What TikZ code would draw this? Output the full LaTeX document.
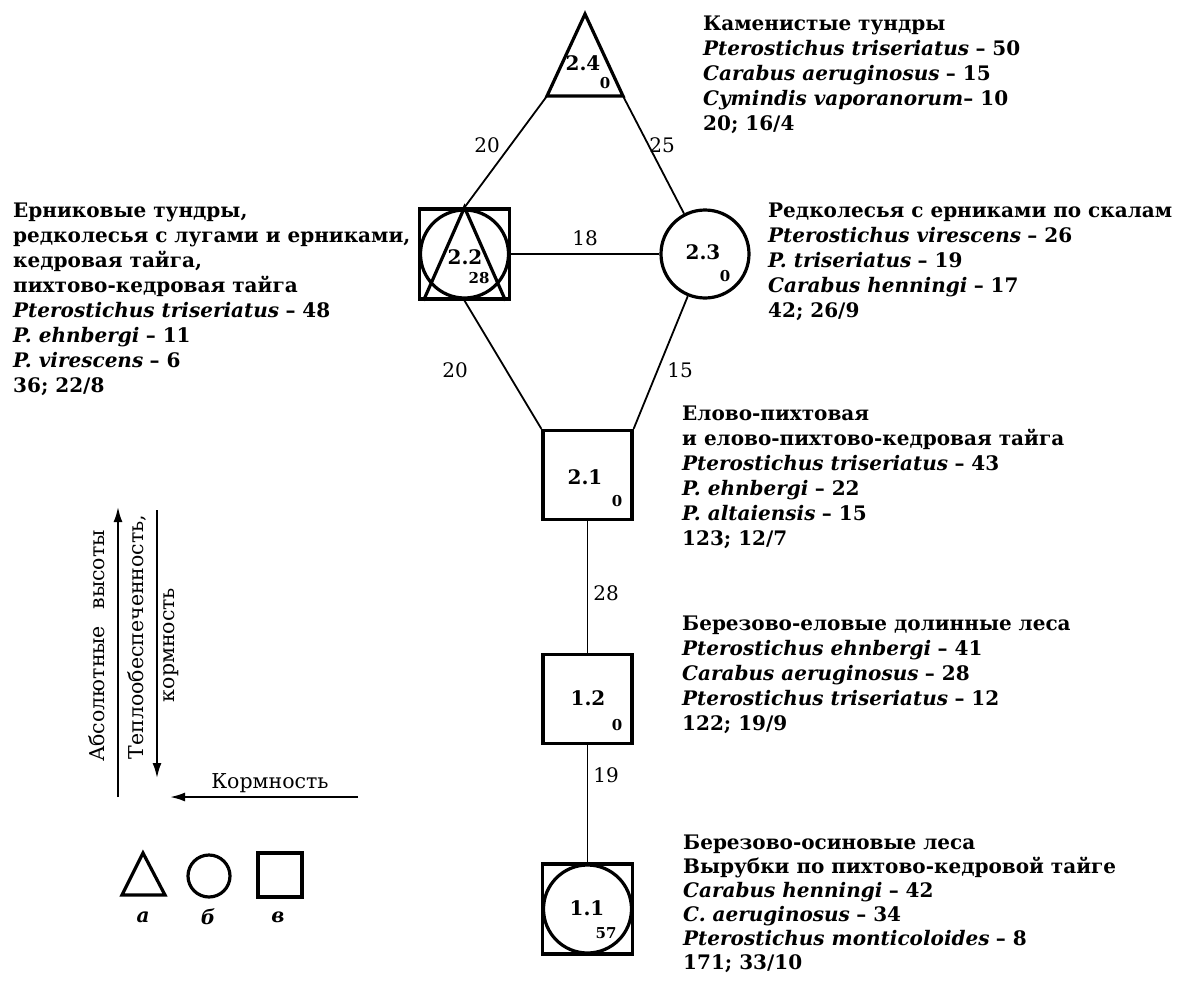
\documentclass[tikz,border=0pt]{standalone}
\usepackage{fontspec}
\setmainfont{DejaVu Serif}
\usetikzlibrary{arrows.meta}
\newcommand{\spc}[1]{\textbf{\itshape #1}}
\begin{document}
\begin{tikzpicture}[x=1pt,y=-1pt,
  shp/.style={line width=3.2pt},
  edge/.style={line width=1.8pt},
  box/.style={draw, shp, rectangle, inner sep=0, minimum width=#1, minimum height=#1},
  txt/.style={anchor=north west, inner sep=0, align=left, font=\fontsize{20}{25}\selectfont},
  txtb/.style={anchor=north west, inner sep=0, align=left, font=\fontsize{20}{24}\selectfont},
  elab/.style={font=\fontsize{20}{22}\selectfont, inner sep=0},
  nlab/.style={font=\fontsize{20}{22}\selectfont\bfseries, inner sep=0},
  nsub/.style={font=\fontsize{15}{16}\selectfont\bfseries, inner sep=0},
  axtxt/.style={font=\fontsize{20.5}{22}\selectfont, inner sep=0},
  legl/.style={font=\fontsize{20}{22}\selectfont\bfseries\itshape, inner sep=0},
  arr/.style={line width=2pt, -{Latex[length=15pt,width=9pt]}},
]
\useasboundingbox (0,0) rectangle (1178,985);

% ---- nodes ----
\coordinate (t24a) at (585,14);
\coordinate (t24l) at (547,96);
\coordinate (t24r) at (623,96);
\draw[shp, line join=miter] (t24a) -- (t24l) -- (t24r) -- cycle;
\node[nlab] (l24) at (583,63) {2.4};
\node[nsub] (s24) at (605,83) {0};

\node[box=90] (n22) at (464.5,254) {};
\draw[shp] (n22.center) circle (44);
\draw[shp] ([xshift=-41pt]n22.south) -- (n22.north) -- ([xshift=41pt]n22.south);
\node[nlab] (l22) at (465,257) {2.2};
\node[nsub] (s22) at (479,278) {28};

\node[draw, shp, circle, inner sep=0, minimum size=88] (n23) at (705,254) {};
\node[nlab] (l23) at (703,252) {2.3};
\node[nsub] (s23) at (725,276) {0};

\node[box=89] (n21) at (587.5,475) {};
\node[nlab] (l21) at (585,477) {2.1};
\node[nsub] (s21) at (617,501) {0};

\node[box=89] (n12) at (587.5,699) {};
\node[nlab] (l12) at (588,698) {1.2};
\node[nsub] (s12) at (617,725) {0};

\node[box=90] (n11) at (587.5,909) {};
\draw[shp] (n11.center) circle (44);
\node[nlab] (l11) at (587,908) {1.1};
\node[nsub] (s11) at (606,933) {57};

% ---- connectors ----
\draw[edge] (t24l) -- (n22.north);
\draw[edge] (t24r) -- (n23);
\draw[edge] (n22.east) -- (n23.west);
\draw[edge] (n22.south) -- (n21.north west);
\draw[edge] (n23) -- (n21.north east);
\draw[edge] (n21) -- (n12);
\draw[edge] (n12) -- (n11);

\node[elab] (e1) at (487,145) {20};
\node[elab] (e2) at (662,145) {25};
\node[elab] (e3) at (585,238) {18};
\node[elab] (e4) at (455,370) {20};
\node[elab] (e5) at (680,370) {15};
\node[elab] (e6) at (606,593) {28};
\node[elab] (e7) at (606,775) {19};

% ---- texts ----
\node[txt] (d24) at (703,15.4) {\textbf{Каменистые тундры}\\
\spc{Pterostichus triseriatus} \textbf{– 50}\\
\spc{Carabus aeruginosus} \textbf{– 15}\\
\spc{Cymindis vaporanorum}\textbf{– 10}\\
\textbf{20; 16/4}};

\node[txt] (d22) at (13,202.4) {\textbf{Ерниковые тундры,}\\
\textbf{редколесья с лугами и ерниками,}\\
\textbf{кедровая тайга,}\\
\textbf{пихтово-кедровая тайга}\\
\spc{Pterostichus triseriatus} \textbf{– 48}\\
\spc{P. ehnbergi} \textbf{– 11}\\
\spc{P. virescens} \textbf{– 6}\\
\textbf{36; 22/8}};

\node[txt] (d23) at (768,202.4) {\textbf{Редколесья с ерниками по скалам}\\
\spc{Pterostichus virescens} \textbf{– 26}\\
\spc{P. triseriatus} \textbf{– 19}\\
\spc{Carabus henningi} \textbf{– 17}\\
\textbf{42; 26/9}};

\node[txt] (d21) at (682,405.4) {\textbf{Елово-пихтовая}\\
\textbf{и елово-пихтово-кедровая тайга}\\
\spc{Pterostichus triseriatus} \textbf{– 43}\\
\spc{P. ehnbergi} \textbf{– 22}\\
\spc{P. altaiensis} \textbf{– 15}\\
\textbf{123; 12/7}};

\node[txt] (d12) at (682,615.4) {\textbf{Березово-еловые долинные леса}\\
\spc{Pterostichus ehnbergi} \textbf{– 41}\\
\spc{Carabus aeruginosus} \textbf{– 28}\\
\spc{Pterostichus triseriatus} \textbf{– 12}\\
\textbf{122; 19/9}};

\node[txtb] (d11) at (683,834.4) {\textbf{Березово-осиновые леса}\\
\textbf{Вырубки по пихтово-кедровой тайге}\\
\spc{Carabus henningi} \textbf{– 42}\\
\spc{C. aeruginosus} \textbf{– 34}\\
\spc{Pterostichus monticoloides} \textbf{– 8}\\
\textbf{171; 33/10}};

% ---- axes ----
\coordinate (ua1) at (118,797);
\coordinate (ua2) at (118,507);
\coordinate (da1) at (157,510);
\coordinate (da2) at (157,778);
\coordinate (ha1) at (358,797);
\coordinate (ha2) at (170,797);
\draw[arr] (ua1) -- (ua2);
\draw[arr] (da1) -- (da2);
\draw[arr] (ha1) -- (ha2);
\node[axtxt, rotate=90] (ax1) at (97,646) {Абсолютные\hspace{0.8em}высоты};
\node[axtxt, rotate=90] (ax2) at (137,637) {Теплообеспеченность,};
\node[axtxt, rotate=90] (ax3) at (171,645) {кормность};
\node[axtxt] (ax4) at (270,783) {Кормность};

% ---- legend ----
\draw[shp, line join=miter] (143,853) -- (122,895) -- (165,895) -- cycle;
\draw[shp] (209,876) circle (21);
\draw[shp] (258,853) rectangle (302,897);
\node[legl] (la) at (143,917) {а};
\node[legl] (lb) at (208,917) {б};
\node[legl] (lc) at (278,917) {в};
\end{tikzpicture}
\end{document}
